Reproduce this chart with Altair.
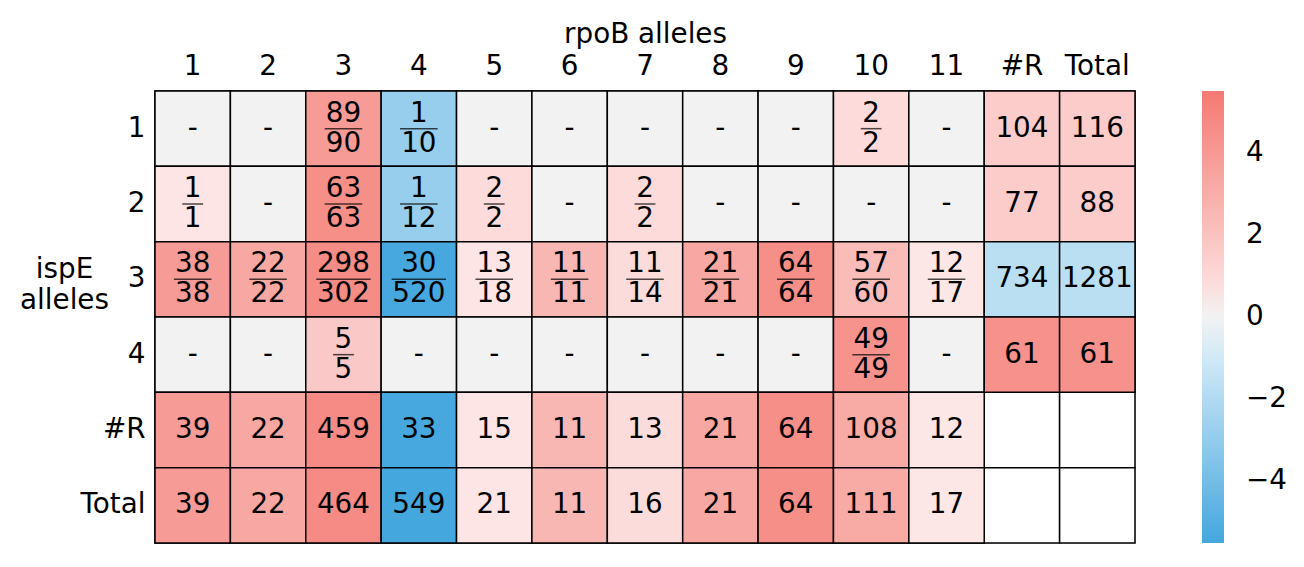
import altair as alt
import pandas as pd

cols = ["1", "2", "3", "4", "5", "6", "7", "8", "9", "10", "11", "#R", "Total"]
rows = ["1", "2", "3", "4", "#R", "Total"]

row1_text = ["-", "-", "89/90", "1/10", "-", "-", "-", "-", "-", "2/2", "-", "104", "116"]
row2_text = ["1/1", "-", "63/63", "1/12", "2/2", "-", "2/2", "-", "-", "-", "-", "77", "88"]
row3_text = ["38/38", "22/22", "298/302", "30/520", "13/18", "11/11", "11/14", "21/21",
             "64/64", "57/60", "12/17", "734", "1281"]
row4_text = ["-", "-", "5/5", "-", "-", "-", "-", "-", "-", "49/49", "-", "61", "61"]
rowR_text = ["39", "22", "459", "33", "15", "11", "13", "21", "64", "108", "12", "", ""]
rowT_text = ["39", "22", "464", "549", "21", "11", "16", "21", "64", "111", "17", "", ""]

row1_val = [0, 0, 3.9, -2.8, 0, 0, 0, 0, 0, 0.85, 0, 1.55, 1.55]
row2_val = [0.35, 0, 4.5, -2.8, 0.85, 0, 0.85, 0, 0, 0, 0, 1.55, 1.55]
row3_val = [3.9, 3.3, 4.65, -5.4, 0.35, 2.6, 0.8, 3.3, 4.5, 2.35, 0.3, -1.7, -1.7]
row4_val = [0, 0, 1.7, 0, 0, 0, 0, 0, 0, 4.3, 0, 4.4, 4.4]
rowR_val = [3.9, 3.3, 4.7, -5.4, 0.35, 2.6, 0.8, 3.3, 4.5, 3.2, 0.3, None, None]
rowT_val = [3.9, 3.3, 4.7, -5.5, 0.35, 2.6, 0.8, 3.3, 4.5, 3.2, 0.3, None, None]

all_text = [row1_text, row2_text, row3_text, row4_text, rowR_text, rowT_text]
all_val = [row1_val, row2_val, row3_val, row4_val, rowR_val, rowT_val]

FONT = "DejaVu Sans"
FS = 27.8

recs = []
for r, texts, vals in zip(rows, all_text, all_val):
    for c, t, v in zip(cols, texts, vals):
        rec = {"row": r, "col": c, "val": v, "single": None, "num": None, "den": None,
               "barw": None, "has_val": v is not None}
        if "/" in t:
            n, d = t.split("/")
            rec["num"] = n
            rec["den"] = d
            rec["barw"] = 16.8 * max(len(n), len(d)) + 4
        elif t != "":
            rec["single"] = t
        recs.append(rec)
df = pd.DataFrame(recs)

x_enc = alt.X("col:N", sort=cols,
              axis=alt.Axis(orient="top", title="rpoB alleles", labelAngle=0,
                            labelFontSize=FS, titleFontSize=FS, titleFontWeight="normal",
                            labelFont=FONT, titleFont=FONT, ticks=False, tickSize=0,
                            domain=False, labelPadding=11, titlePadding=4,
                            labelColor="black", titleColor="black"),
              scale=alt.Scale(paddingInner=0, paddingOuter=0))
y_enc = alt.Y("row:N", sort=rows,
              axis=alt.Axis(title=["ispE", "alleles"], labelFontSize=FS, titleFontSize=FS,
                            titleFontWeight="normal", labelFont=FONT, titleFont=FONT,
                            ticks=False, tickSize=0, domain=False, labelPadding=10,
                            titleAngle=0, titleAlign="center", titleBaseline="middle",
                            titleX=-91, titleY=178, titleLineHeight=31,
                            labelColor="black", titleColor="black"),
              scale=alt.Scale(paddingInner=0, paddingOuter=0))

base = alt.Chart(df)

bg = base.mark_rect(fill="white", stroke="black", strokeWidth=1.5).encode(x=x_enc, y=y_enc)

color_scale = alt.Scale(
    domain=[-5.5, -0.23, -0.22, 0.22, 0.23, 5.5],
    range=["#44a7de", "#e8f4fb", "#f2f2f2", "#f2f2f2", "#fde8e8", "#f47a72"],
    interpolate="rgb",
)

cells = base.transform_filter("datum.has_val").mark_rect(stroke="black", strokeWidth=1.5).encode(
    x=x_enc, y=y_enc,
    color=alt.Color("val:Q", scale=color_scale,
                    legend=alt.Legend(title=None, orient="right", offset=67,
                                      gradientLength=452, gradientThickness=22,
                                      gradientStrokeWidth=0, values=[-4, -2, 0, 2, 4],
                                      labelFontSize=FS, labelFont=FONT, labelColor="black",
                                      labelOffset=22,
                                      labelExpr="replace(datum.label, '-', '\u2212')")),
)

single = base.transform_filter("datum.single != null").mark_text(
    font=FONT, fontSize=FS, color="black", baseline="middle").encode(
    x=x_enc, y=y_enc, text="single:N")

num = base.transform_filter("datum.num != null").mark_text(
    font=FONT, fontSize=FS, color="black", baseline="middle", dy=-15).encode(
    x=x_enc, y=y_enc, text="num:N")

den = base.transform_filter("datum.den != null").mark_text(
    font=FONT, fontSize=FS, color="black", baseline="middle", dy=15).encode(
    x=x_enc, y=y_enc, text="den:N")

bars = base.transform_filter("datum.num != null").mark_tick(
    orient="horizontal", thickness=1.5, color="black").encode(
    x=x_enc, y=y_enc, size=alt.Size("barw:Q", scale=None, legend=None))

chart = alt.layer(bg, cells, single, num, den, bars).properties(
    width=980, height=452,
    autosize=alt.AutoSizeParams(type="none"),
    padding={"left": 147, "top": 83, "right": 161, "bottom": 16},
).configure_view(strokeWidth=0).configure(background="white")

chart.save("out.html", embed_options={"renderer": "svg", "actions": False})
